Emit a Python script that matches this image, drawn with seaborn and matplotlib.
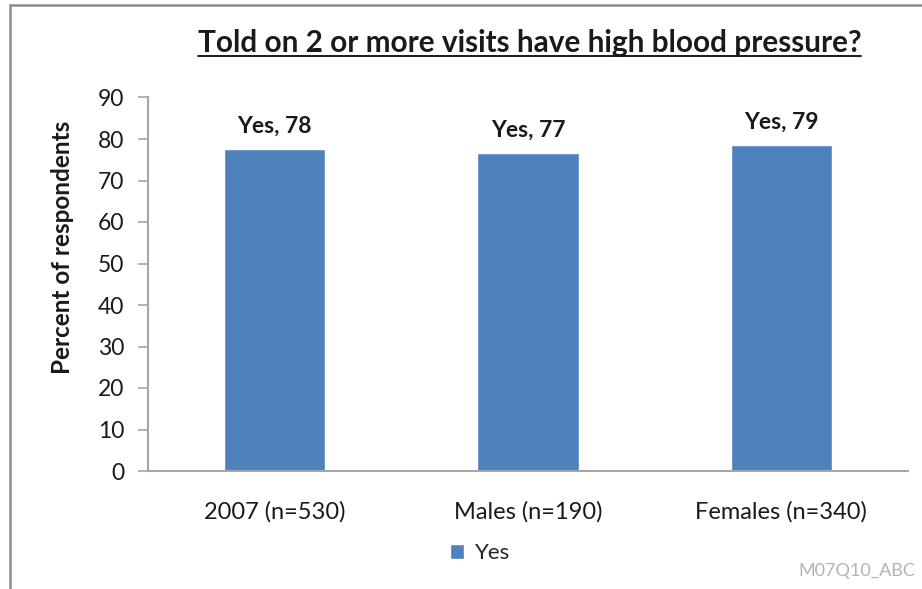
import matplotlib
matplotlib.use("Agg")
import matplotlib.pyplot as plt
import matplotlib.patches as mpatches
from matplotlib.lines import Line2D
import numpy as np
import pandas as pd
import seaborn as sns

# data
groups = ["2007 (n=530)", "Males (n=190)", "Females (n=340)"]
percent_yes = [77.6, 76.6, 78.6]
series_name = "Yes"
y_ticks = [0, 10, 20, 30, 40, 50, 60, 70, 80, 90]

title_text = "Told on 2 or more visits have high blood pressure?"
y_label = "Percent of respondents"
source_tag = "M07Q10_ABC"

sns.set_style("ticks")
plt.rcParams["font.family"] = ["Lato", "DejaVu Sans"]

BAR_BLUE = "#4F81BD"
AXIS_GREY = "#A6A6A6"
TEXT_DARK = "#1A1A1A"

df = pd.DataFrame({"group": groups, "percent": percent_yes, "series": series_name})

fig = plt.figure(figsize=(9.22, 5.89), dpi=100)
W, H = 922, 589
ax = fig.add_axes([148 / W, 1 - 471 / H, 760 / W, (471 - 97.5) / H])

sns.barplot(data=df, x="group", y="percent", hue="series", palette=[BAR_BLUE],
            width=0.4, ax=ax, legend=True, saturation=1)

ax.set_ylim(0, 90)
ax.set_yticks(y_ticks)
ax.set_xlim(-0.5, len(groups) - 0.5)
ax.set_xlabel("")
ax.set_ylabel(y_label, fontsize=17.5, fontweight="bold", color=TEXT_DARK)
ax.yaxis.set_label_coords(-0.097, 0.6)

for side in ["top", "right"]:
    ax.spines[side].set_visible(False)
for side in ["left", "bottom"]:
    ax.spines[side].set_color(AXIS_GREY)
    ax.spines[side].set_linewidth(1.5)

ax.tick_params(axis="y", length=7, width=1.2, color=AXIS_GREY, pad=10,
               labelsize=16.5, labelcolor=TEXT_DARK)
ax.tick_params(axis="x", length=0, pad=22, labelsize=17, labelcolor=TEXT_DARK)

# value labels above bars
for container in ax.containers:
    labels = [f"{series_name}, {round(v):d}" for v in container.datavalues]
    ax.bar_label(container, labels=labels, padding=9, fontsize=16.5,
                 fontweight="bold", color=TEXT_DARK)

# legend below the category labels
handles, labels = ax.get_legend_handles_labels()
ax.legend(handles, labels, loc="center", bbox_to_anchor=(480 / W, 1 - 553 / H),
          bbox_transform=fig.transFigure, frameon=False, fontsize=16,
          handlelength=0.65, handleheight=0.65, handletextpad=0.5)

# underlined title
title = fig.text(529.5 / W, 1 - 43 / H, title_text, ha="center", va="center",
                 fontsize=21.4, fontweight="bold", color=TEXT_DARK)
fig.canvas.draw()
bb = title.get_window_extent()
uy = bb.y0 + 1
fig.add_artist(Line2D([bb.x0 / W, bb.x1 / W], [uy / H, uy / H],
                      transform=fig.transFigure, color=TEXT_DARK, linewidth=1.4))

fig.text(915 / W, 1 - 571 / H, source_tag, ha="right", va="center",
         fontsize=13, color="#B3B3B3")

# outer chart frame (only left and top edges are inside the picture)
frame = mpatches.Rectangle((10 / W, -0.5), 2.0, 1.5 - 5 / H, transform=fig.transFigure,
                           fill=False, edgecolor="#8C8C8C", linewidth=1.8)
fig.add_artist(frame)

fig.savefig("out.png", dpi=100)
